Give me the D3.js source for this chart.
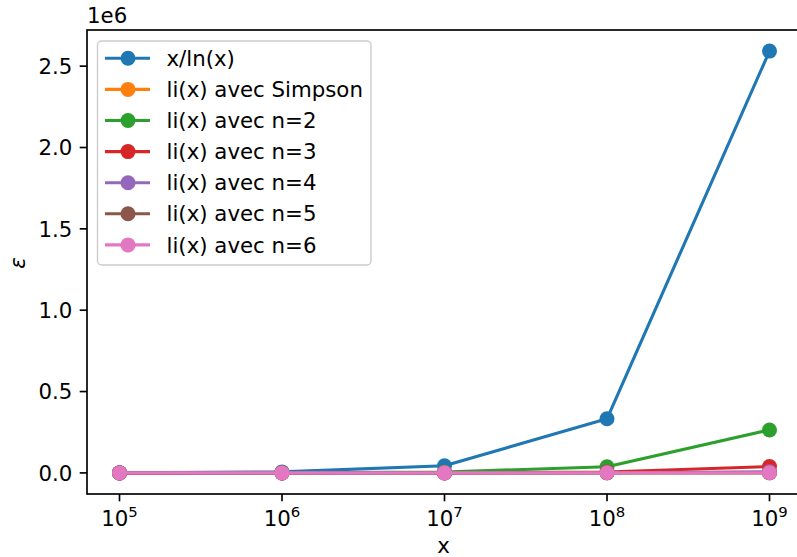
<!DOCTYPE html>
<html><head><meta charset="utf-8">
<script src="https://cdn.jsdelivr.net/npm/d3@7"></script>
<style>body{margin:0;background:#fff}svg{display:block}text{font-family:"DejaVu Sans",sans-serif;fill:#000}</style>
</head><body><svg id="c" width="797" height="557"></svg>
<script>
const xs = [1e5, 1e6, 1e7, 1e8, 1e9];
const seriesNames = ["x/ln(x)", "li(x) avec Simpson", "li(x) avec n=2", "li(x) avec n=3", "li(x) avec n=4", "li(x) avec n=5", "li(x) avec n=6"];
const colors = ["#1f77b4", "#ff7f0e", "#2ca02c", "#d62728", "#9467bd", "#8c564b", "#e377c2"];
const errXlnx = [906, 6116, 44158, 332774, 2592592];
const errSimpson = [38, 130, 339, 754, 1701];
const errN2 = [152, 877, 5666, 38068, 264058];
const errN3 = [20, 118, 890, 6071, 39325];
const errN4 = [13, 47, 1, 859, 6789];
const errN5 = [25, 95, 220, 272, 510];
const errN6 = [30, 112, 288, 579, 1005];
const seriesValues = [errXlnx, errSimpson, errN2, errN3, errN4, errN5, errN6];
const yTicks = [0, 0.5e6, 1.0e6, 1.5e6, 2.0e6, 2.5e6];
const xTickExp = [5, 6, 7, 8, 9];

const FS = 21.3, LW = 3.1, MR = 7.5, TL = 7.3;
const svg = d3.select("#c");
const L = 87, R = 802, T = 30, B = 494;
const x = d3.scaleLog().domain([Math.pow(10, 4.8), Math.pow(10, 9.2)]).range([L, R]);
const y = d3.scaleLinear().domain([-0.1296e6, 2.7222e6]).range([B, T]);

svg.append("defs").append("clipPath").attr("id", "clip")
  .append("rect").attr("x", L).attr("y", T).attr("width", R - L).attr("height", B - T);

const g = svg.append("g").attr("clip-path", "url(#clip)");
const line = d3.line().x(d => x(d[0])).y(d => y(d[1]));
seriesValues.forEach((vals, i) => {
  const pts = xs.map((xv, j) => [xv, vals[j]]);
  g.append("path").datum(pts).attr("d", line).attr("fill", "none")
    .attr("stroke", colors[i]).attr("stroke-width", LW).attr("stroke-linejoin", "round").attr("stroke-linecap", "square");
  g.selectAll(null).data(pts).enter().append("circle")
    .attr("cx", d => x(d[0])).attr("cy", d => y(d[1])).attr("r", MR)
    .attr("fill", colors[i]);
});

svg.append("rect").attr("x", L).attr("y", T).attr("width", R - L).attr("height", B - T)
  .attr("fill", "none").attr("stroke", "#000").attr("stroke-width", 1.67);

const yAxis = svg.append("g");
yTicks.forEach(t => {
  const yy = y(t);
  yAxis.append("line").attr("x1", L - TL).attr("x2", L).attr("y1", yy).attr("y2", yy).attr("stroke", "#000").attr("stroke-width", 1.67);
  yAxis.append("text").attr("x", L - 2 * TL).attr("y", yy).attr("dy", "0.36em").attr("text-anchor", "end")
    .attr("font-size", FS).text((t / 1e6).toFixed(1));
});
svg.append("text").attr("x", L).attr("y", 23).attr("font-size", FS).text("1e6");

xTickExp.forEach(e => {
  const xx = x(Math.pow(10, e));
  svg.append("line").attr("x1", xx).attr("x2", xx).attr("y1", B).attr("y2", B + TL).attr("stroke", "#000").attr("stroke-width", 1.67);
  const t = svg.append("text").attr("x", xx).attr("y", 526).attr("text-anchor", "middle").attr("font-size", FS);
  t.append("tspan").text("10");
  t.append("tspan").attr("dy", -8.7).attr("font-size", 14.9).text(String(e));
});
svg.append("text").attr("x", (L + R) / 2 - 1).attr("y", 553).attr("text-anchor", "middle").attr("font-size", FS).text("x");
svg.append("text").attr("transform", "translate(25,263) rotate(-90)").attr("text-anchor", "middle")
  .attr("font-size", FS).attr("font-style", "italic").text("ε");

const lg = svg.append("g");
lg.append("rect").attr("x", 97.5).attr("y", 41).attr("width", 273.5).attr("height", 224).attr("rx", 4)
  .attr("fill", "#fff").attr("fill-opacity", 0.8).attr("stroke", "#ccc").attr("stroke-width", 1.4);
seriesNames.forEach((n, i) => {
  const yy = 58.3 + i * 31.1;
  lg.append("line").attr("x1", 105).attr("x2", 150).attr("y1", yy).attr("y2", yy).attr("stroke", colors[i]).attr("stroke-width", LW);
  lg.append("circle").attr("cx", 128).attr("cy", yy).attr("r", MR).attr("fill", colors[i]);
  lg.append("text").attr("x", 166.5).attr("y", yy).attr("dy", "0.36em").attr("font-size", FS).text(n);
});
</script></body></html>
